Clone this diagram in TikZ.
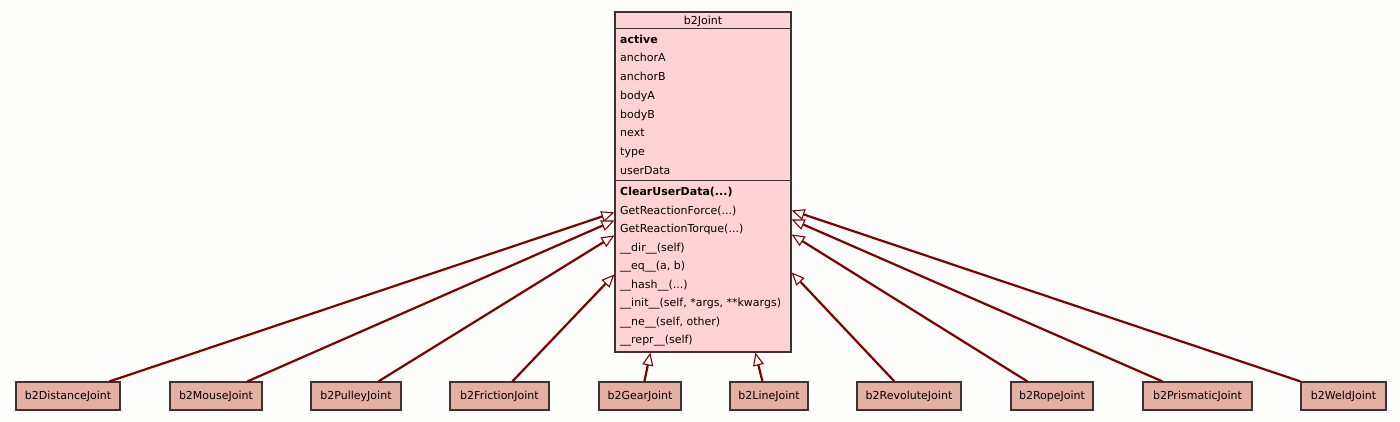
\documentclass[tikz,border=0pt]{standalone}
\usepackage{fontspec}
\setmainfont{DejaVu Sans}
\usetikzlibrary{arrows.meta}

\definecolor{bgcol}{RGB}{253,253,251}
\definecolor{classpink}{RGB}{255,211,214}
\definecolor{subfill}{RGB}{228,176,162}
\definecolor{boxline}{RGB}{60,50,50}
\definecolor{edgered}{RGB}{128,0,0}

\tikzset{
  umlbox/.style={draw=boxline, line width=1.2pt, inner sep=0pt},
  subclass/.style={umlbox, fill=subfill, minimum height=28pt,
    text height=8.5pt, text depth=2pt, font=\fontsize{11}{13}\selectfont},
  member/.style={anchor=west, inner sep=0pt, text height=10pt, text depth=1.5pt,
    font=\fontsize{11}{13}\selectfont},
  inherit/.style={draw=edgered, line width=2.2pt,
    -{Triangle[fill=white, length=13pt, width=11pt, line width=1.1pt]}},
}

\begin{document}
\begin{tikzpicture}[x=1pt,y=-1pt]
    \fill[bgcol] (0,0) rectangle (1400,421);
    \useasboundingbox (0,0) rectangle (1400,421);

    % Draw base class
    \node[umlbox, fill=classpink, minimum width=176pt, minimum height=340pt] (joint) at (703,182) {};
    \draw[boxline, line width=1.2pt] ([yshift=-17]joint.north west) -- ([yshift=-17]joint.north east);
    \draw[boxline, line width=1.2pt] ([yshift=-169]joint.north west) -- ([yshift=-169]joint.north east);
    \node[member, anchor=center] (title) at (703,20.5) {b2Joint};

    % Draw attributes
    \node[member] (active) at (620,39) {\bfseries active};
    \node[member] (anchorA) at (620,57.7) {anchorA};
    \node[member] (anchorB) at (620,76.4) {anchorB};
    \node[member] (bodyA) at (620,95.1) {bodyA};
    \node[member] (bodyB) at (620,113.8) {bodyB};
    \node[member] (next) at (620,132.5) {next};
    \node[member] (type) at (620,151.2) {type};
    \node[member] (userData) at (620,170) {userData};

    % Draw methods
    \node[member] (clearData) at (620,191.5) {\bfseries ClearUserData(...)};
    \node[member] (reactForce) at (620,210) {GetReactionForce(...)};
    \node[member] (reactTorque) at (620,228.5) {GetReactionTorque(...)};
    \node[member] (dirM) at (620,247) {\_\_dir\_\_(self)};
    \node[member] (eqM) at (620,265.5) {\_\_eq\_\_(a, b)};
    \node[member] (hashM) at (620,284) {\_\_hash\_\_(...)};
    \node[member] (initM) at (620,302.5) {\_\_init\_\_(self, *args, **kwargs)};
    \node[member] (neM) at (620,321) {\_\_ne\_\_(self, other)};
    \node[member] (reprM) at (620,339.5) {\_\_repr\_\_(self)};

    % Draw derived classes
    \node[subclass, minimum width=104pt] (distance) at (68,396) {b2DistanceJoint};
    \node[subclass, minimum width=92pt] (mouse) at (216,396) {b2MouseJoint};
    \node[subclass, minimum width=90pt] (pulley) at (356,396) {b2PulleyJoint};
    \node[subclass, minimum width=99pt] (friction) at (499.5,396) {b2FrictionJoint};
    \node[subclass, minimum width=82pt] (gear) at (640,396) {b2GearJoint};
    \node[subclass, minimum width=78pt] (line) at (769,396) {b2LineJoint};
    \node[subclass, minimum width=104pt] (revolute) at (909,396) {b2RevoluteJoint};
    \node[subclass, minimum width=82pt] (rope) at (1052,396) {b2RopeJoint};
    \node[subclass, minimum width=109pt] (prismatic) at (1197.5,396) {b2PrismaticJoint};
    \node[subclass, minimum width=85pt] (weld) at (1343.5,396) {b2WeldJoint};

    % Draw inheritance arrows
    \draw[inherit] ([xshift=94]distance.north west) -- ([yshift=-201]joint.north west);
    \draw[inherit] ([xshift=78]mouse.north west) -- ([yshift=-209]joint.north west);
    \draw[inherit] ([xshift=68]pulley.north west) -- ([yshift=-224]joint.north west);
    \draw[inherit] ([xshift=63]friction.north west) -- ([yshift=-263]joint.north west);
    \draw[inherit] ([xshift=46]gear.north west) -- ([xshift=36]joint.south west);
    \draw[inherit] ([xshift=33]line.north west) -- ([xshift=141]joint.south west);
    \draw[inherit] ([xshift=38]revolute.north west) -- ([yshift=-261]joint.north east);
    \draw[inherit] ([xshift=17]rope.north west) -- ([yshift=-223]joint.north east);
    \draw[inherit] ([xshift=20]prismatic.north west) -- ([yshift=-208]joint.north east);
    \draw[inherit] (weld.north west) -- ([yshift=-199]joint.north east);
\end{tikzpicture}
\end{document}
